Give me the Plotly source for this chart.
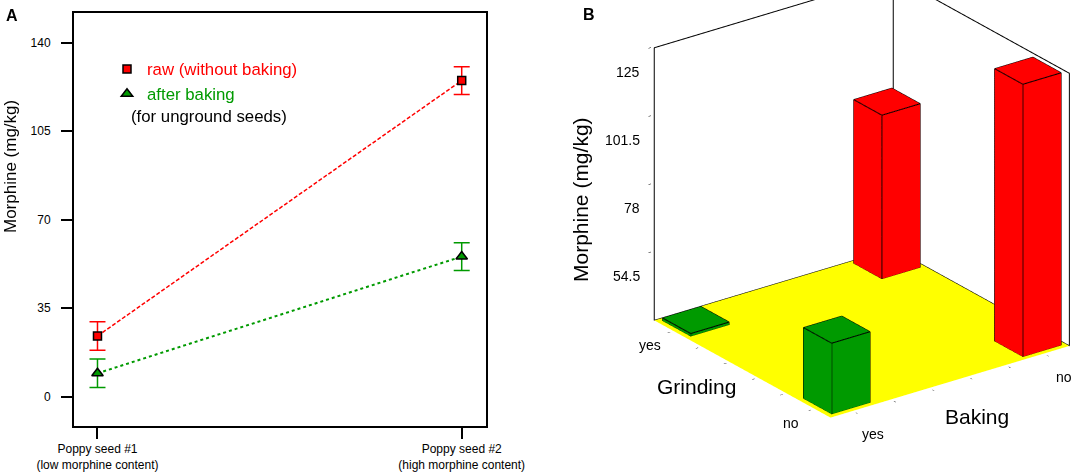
import plotly.graph_objects as go

# ---------------- panel A data ----------------
seed_labels = ["Poppy seed #1<br>(low morphine content)",
               "Poppy seed #2<br>(high morphine content)"]
raw_morphine = [24.0, 125.0]
raw_err = [5.6, 5.5]
baked_morphine = [9.25, 55.4]
baked_err = [5.6, 5.5]
y_ticks_a = [0, 35, 70, 105, 140]

# ---------------- panel B data ----------------
baking_levels = ["no", "yes"]        # x axis of the 3D plot
grinding_levels = ["yes", "no"]      # y axis of the 3D plot
bar_baking = ["yes", "yes", "no", "no"]
bar_grinding = ["yes", "no", "yes", "no"]
bar_morphine = [32.0, 55.5, 87.5, 125.0]
z_ticks = [54.5, 78, 101.5, 125]

RED = "#FF0000"
GREEN = "#009A00"
FONT = "Arial, Liberation Sans, sans-serif"

Z_FLOOR, Z_TOP = 31.0, 125.0
X_RANGE = [-0.125, 1.125]
Y_RANGE = [-0.125, 1.125]
HW = 0.1  # half width of a bar footprint

fig = go.Figure()

# ---------------- panel A ----------------
xpos = [1, 2]
fig.add_trace(go.Scatter(x=xpos, y=raw_morphine, mode="lines",
                         line=dict(color=RED, width=1.5, dash="4px,2px"),
                         showlegend=False, hoverinfo="skip"))
fig.add_trace(go.Scatter(x=xpos, y=baked_morphine, mode="lines",
                         line=dict(color=GREEN, width=2, dash="dot"),
                         showlegend=False, hoverinfo="skip"))
fig.add_trace(go.Scatter(
    x=xpos, y=raw_morphine, mode="markers",
    name="<span style='color:#FF0000'>raw (without baking)</span>",
    marker=dict(symbol="square", size=8, color=RED, line=dict(color="black", width=1.5)),
    error_y=dict(type="data", array=raw_err, color=RED, thickness=1.5, width=8)))
fig.add_trace(go.Scatter(
    x=xpos, y=baked_morphine, mode="markers",
    name="<span style='color:#009A00'>after baking</span>",
    marker=dict(symbol="triangle-up", size=10, color=GREEN, line=dict(color="black", width=1.5)),
    error_y=dict(type="data", array=baked_err, color=GREEN, thickness=1.5, width=8)))

# ---------------- panel B ----------------
def cuboid(xc, yc, z0, z1, hw):
    xs = [xc - hw, xc + hw, xc + hw, xc - hw] * 2
    ys = [yc - hw, yc - hw, yc + hw, yc + hw] * 2
    zs = [z0] * 4 + [z1] * 4
    return xs, ys, zs


flat = dict(ambient=1.0, diffuse=0.0, specular=0.0, roughness=1.0, fresnel=0.0)
x0, x1 = X_RANGE
y0, y1 = Y_RANGE

# yellow floor
fig.add_trace(go.Mesh3d(
    x=[x0, x1, x1, x0], y=[y0, y0, y1, y1],
    z=[Z_FLOOR] * 4, i=[0, 0], j=[1, 2], k=[2, 3],
    color="#FFFF00", flatshading=True, lighting=flat, hoverinfo="skip",
    scene="scene", showscale=False))

for b, g, v in zip(bar_baking, bar_grinding, bar_morphine):
    xc = baking_levels.index(b)
    yc = grinding_levels.index(g)
    xs, ys, zs = cuboid(xc, yc, Z_FLOOR + 0.05, v, HW)
    fig.add_trace(go.Mesh3d(
        x=xs, y=ys, z=zs,
        i=[4, 4, 0, 0, 1, 1, 2, 2, 3, 3],
        j=[5, 6, 1, 5, 2, 6, 3, 7, 0, 4],
        k=[6, 7, 5, 4, 6, 5, 7, 6, 4, 7],
        color=GREEN if b == "yes" else RED, flatshading=True, lighting=flat,
        hoverinfo="skip", scene="scene"))
    order = [0, 1, 2, 3, 0, None, 4, 5, 6, 7, 4, None, 0, 4, None, 1, 5, None, 2, 6, None, 3, 7]
    fig.add_trace(go.Scatter3d(
        x=[None if o is None else xs[o] for o in order],
        y=[None if o is None else ys[o] for o in order],
        z=[None if o is None else zs[o] for o in order],
        mode="lines", line=dict(color="black", width=2),
        showlegend=False, hoverinfo="skip", scene="scene"))

# frame: back walls outline + back edges of the floor
frame_x = [x1, x1, x0, x0, None, x0, x0, x0, x1, None, x1, x0, x0]
frame_y = [y0, y0, y0, y0, None, y1, y1, y0, y0, None, y0, y0, y1]
frame_z = [Z_FLOOR, Z_TOP, Z_TOP, Z_FLOOR, None, Z_FLOOR, Z_TOP, Z_TOP, Z_TOP,
           None, Z_FLOOR, Z_FLOOR, Z_FLOOR]
fig.add_trace(go.Scatter3d(x=frame_x, y=frame_y, z=frame_z, mode="lines",
                           line=dict(color="black", width=2),
                           showlegend=False, hoverinfo="skip", scene="scene"))

axis3d = dict(showbackground=False, showgrid=False, zeroline=False, showline=False,
              showspikes=False, title=dict(text=""), ticks="outside", ticklen=3,
              showticklabels=False, tickcolor="black")

# tick labels of the 3D plot as scene annotations (kept horizontal)
tick_font = dict(family=FONT, size=14, color="black")
scene_ann = []
for k, lab in enumerate(grinding_levels):
    scene_ann.append(dict(x=x1, y=k, z=Z_FLOOR, text=lab, showarrow=False,
                          font=tick_font, xshift=-22, yshift=-15))
for k, lab in enumerate(baking_levels):
    scene_ann.append(dict(x=k, y=y1, z=Z_FLOOR, text=lab, showarrow=False,
                          font=tick_font, xshift=18, yshift=-24))
for t in z_ticks:
    scene_ann.append(dict(x=x1, y=y0, z=t, text=str(t), showarrow=False,
                          font=tick_font, xanchor="right", xshift=-13, yshift=-24))

# camera: look direction (azimuth ~54 deg, elevation ~24 deg)
cam_center = dict(x=0.0, y=-0.194, z=-0.257)
cam_dir = (0.542, 0.735, 0.407)
cam_dist = 2.0
cam_eye = dict(x=cam_center["x"] + cam_dist * cam_dir[0],
               y=cam_center["y"] + cam_dist * cam_dir[1],
               z=cam_center["z"] + cam_dist * cam_dir[2])
BOX = 1.27

fig.update_layout(
    width=1084, height=475,
    margin=dict(l=0, r=0, t=0, b=0),
    paper_bgcolor="white", plot_bgcolor="white",
    font=dict(family=FONT, color="black"),
    showlegend=True,
    legend=dict(x=107 / 1084, y=1 - 51.5 / 475, xanchor="left", yanchor="top",
                bgcolor="rgba(0,0,0,0)", font=dict(size=16.8), itemwidth=30,
                tracegroupgap=0),
    xaxis=dict(domain=[74 / 1084, 486 / 1084], range=[0.9355, 2.0667],
               tickvals=xpos, ticktext=seed_labels, tickfont=dict(size=12),
               ticks="outside", ticklen=11, tickwidth=1.5, tickcolor="black",
               showline=True, linecolor="black", linewidth=2, mirror=True,
               showgrid=False, zeroline=False, automargin=False),
    yaxis=dict(domain=[1 - 426 / 475, 1 - 13.3 / 475], range=[-11.6, 151.6],
               tickvals=y_ticks_a, tickfont=dict(size=12),
               ticks="outside", ticklen=11, tickwidth=1.5, tickcolor="black",
               ticklabelstandoff=8,
               showline=True, linecolor="black", linewidth=2, mirror=True,
               showgrid=False, zeroline=False, automargin=False),
    scene=dict(
        domain=dict(x=[0.54, 1.0], y=[0.0, 1.0]),
        xaxis=dict(axis3d, range=[x0 - 0.01, x1 + 0.01]),
        yaxis=dict(axis3d, range=[y0 - 0.01, y1 + 0.01]),
        zaxis=dict(axis3d, range=[Z_FLOOR - 0.5, Z_TOP + 0.5], tickvals=z_ticks),
        aspectmode="manual", aspectratio=dict(x=BOX, y=BOX, z=BOX),
        camera=dict(eye=cam_eye, center=cam_center, up=dict(x=0, y=0, z=1),
                    projection=dict(type="orthographic")),
        bgcolor="white",
        annotations=scene_ann,
    ),
)


def paper_text(text, x, y, size, angle=0, xanchor="center"):
    fig.add_annotation(text=text, x=x / 1084, y=1 - y / 475, xref="paper", yref="paper",
                       showarrow=False, xanchor=xanchor, yanchor="middle",
                       textangle=angle, font=dict(size=size))


paper_text("<b>A</b>", 11.5, 15.5, 16)
paper_text("<b>B</b>", 589, 15, 16)
paper_text("(for unground seeds)", 129, 116.7, 16.8, xanchor="left")
paper_text("Morphine (mg/kg)", 11, 167, 17, angle=-90)
paper_text("Morphine (mg/kg)", 580, 200, 21, angle=-90)
paper_text("Grinding", 696.7, 386.7, 21)
paper_text("Baking", 976.7, 416.7, 21)

fig.write_html("out.html", config=dict(displayModeBar=False),
               post_script="document.body.style.margin='0';")
